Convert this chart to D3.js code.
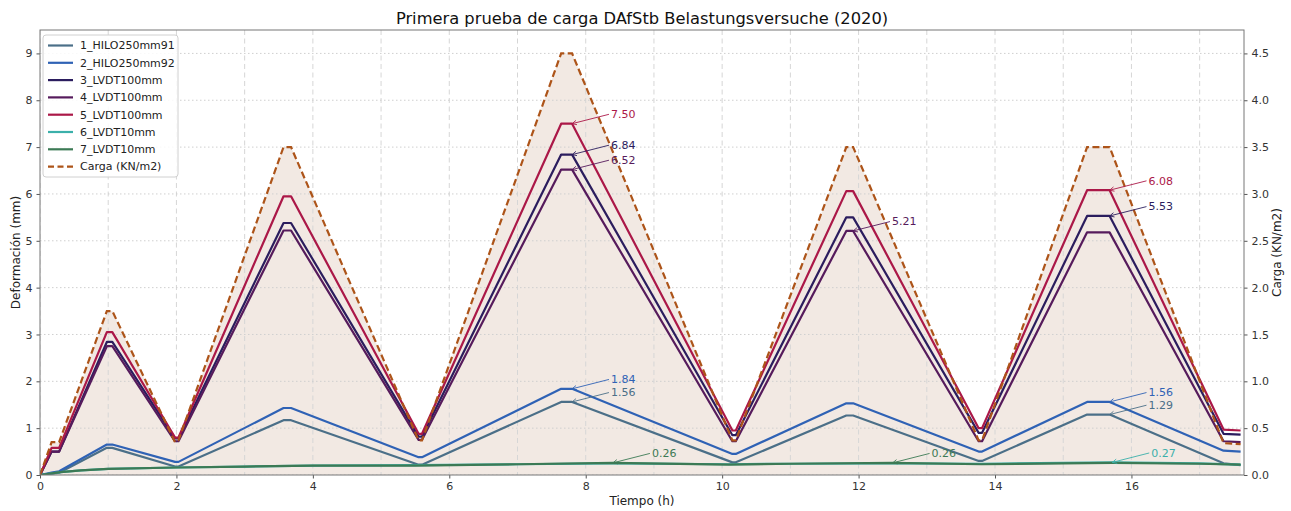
<!DOCTYPE html>
<html>
<head>
<meta charset="utf-8">
<script src="https://cdn.jsdelivr.net/npm/d3@7"></script>
<style>
  html, body { margin: 0; padding: 0; background: #fff; }
  svg { display: block; font-family: "DejaVu Sans", sans-serif; }
</style>
</head>
<body>
<svg id="chart" width="1291" height="511"></svg>
<script>
// Breakpoint times (h) shared by the load, LVDT100 and HILO series
const times = [0, 0.17, 0.28, 0.98, 1.06, 1.98, 2.03, 3.57, 3.68, 5.55, 5.6, 7.64, 7.8,
               10.15, 10.2, 11.82, 11.92, 13.76, 13.81, 15.35, 15.68, 17.35, 17.6];

// Applied load (KN/m2)
const carga = [0, 0.35, 0.35, 1.75, 1.75, 0.35, 0.37, 3.5, 3.5, 0.37, 0.37, 4.5, 4.5,
               0.37, 0.37, 3.5, 3.5, 0.37, 0.37, 3.5, 3.5, 0.34, 0.33];

// Deformation (mm)
const hilo91 = [0, 0.03, 0.05, 0.58, 0.58, 0.18, 0.18, 1.17, 1.17, 0.22, 0.22, 1.56, 1.56,
                0.27, 0.27, 1.27, 1.27, 0.3, 0.3, 1.29, 1.29, 0.25, 0.21];
const hilo92 = [0, 0.05, 0.08, 0.65, 0.65, 0.28, 0.28, 1.43, 1.43, 0.38, 0.38, 1.84, 1.84,
                0.45, 0.45, 1.53, 1.53, 0.5, 0.5, 1.56, 1.56, 0.52, 0.5];
const lvdt3 = [0, 0.5, 0.5, 2.84, 2.84, 0.78, 0.78, 5.38, 5.38, 0.82, 0.82, 6.84, 6.84,
               0.85, 0.85, 5.5, 5.5, 0.9, 0.9, 5.53, 5.53, 0.88, 0.86];
const lvdt4 = [0, 0.5, 0.5, 2.75, 2.75, 0.72, 0.72, 5.22, 5.22, 0.75, 0.75, 6.52, 6.52,
               0.72, 0.72, 5.21, 5.21, 0.72, 0.72, 5.18, 5.18, 0.72, 0.7];
const lvdt5 = [0, 0.58, 0.58, 3.05, 3.05, 0.8, 0.8, 5.95, 5.95, 0.88, 0.88, 7.5, 7.5,
               0.95, 0.95, 6.06, 6.06, 1.0, 1.0, 6.08, 6.08, 0.97, 0.95];

// Short-stroke LVDTs are sampled on their own breakpoints
const times10 = [0, 0.3, 0.6, 1.0, 2.0, 3.0, 4.0, 5.5, 7.0, 8.4, 10.1, 11.0, 12.5, 13.8, 15.0, 15.72, 17.0, 17.6];
const lvdt6 = [0, 0.06, 0.1, 0.13, 0.16, 0.18, 0.2, 0.21, 0.23, 0.25, 0.23, 0.24, 0.25, 0.24, 0.26, 0.27, 0.25, 0.22];
const lvdt7 = [0, 0.06, 0.1, 0.13, 0.16, 0.18, 0.2, 0.2, 0.23, 0.26, 0.22, 0.24, 0.26, 0.23, 0.25, 0.26, 0.24, 0.22];

const seriesNames = ["1_HILO250mm91", "2_HILO250mm92", "3_LVDT100mm", "4_LVDT100mm",
                     "5_LVDT100mm", "6_LVDT10mm", "7_LVDT10mm"];
const seriesColors = ["#4b6f88", "#2f62b5", "#2b1d5e", "#561b5c", "#ab1848", "#3bb0aa", "#3c7a55"];
const cargaLabel = "Carga (KN/m2)";
const cargaColor = "#ad5419";

const xTicks = [0, 2, 4, 6, 8, 10, 12, 14, 16];
const yTicks = [0, 1, 2, 3, 4, 5, 6, 7, 8, 9];
const y2Ticks = [0, 0.5, 1, 1.5, 2, 2.5, 3, 3.5, 4, 4.5];

// Annotated values: series index, time, value shown
const notes = [
  { s: 4, t: times[12], v: lvdt5[12] },
  { s: 2, t: times[12], v: lvdt3[12] },
  { s: 3, t: times[12], v: lvdt4[12] },
  { s: 1, t: times[12], v: hilo92[12] },
  { s: 0, t: times[12], v: hilo91[12] },
  { s: 6, t: times10[9], v: lvdt7[9] },
  { s: 3, t: times[16], v: lvdt4[16] },
  { s: 6, t: times10[12], v: lvdt7[12] },
  { s: 4, t: times[20], v: lvdt5[20] },
  { s: 2, t: times[20], v: lvdt3[20] },
  { s: 1, t: times[20], v: hilo92[20] },
  { s: 0, t: times[20], v: hilo91[20] },
  { s: 5, t: times10[15], v: lvdt6[15] }
];

const seriesData = [
  { x: times, y: hilo91 }, { x: times, y: hilo92 }, { x: times, y: lvdt3 },
  { x: times, y: lvdt4 }, { x: times, y: lvdt5 }, { x: times10, y: lvdt6 },
  { x: times10, y: lvdt7 }
];

const svg = d3.select("#chart");
const L = 40, R = 1244, T = 30, B = 475;

const x = d3.scaleLinear().domain([0, 17.65]).range([L, R]);
const y = d3.scaleLinear().domain([0, 9.5]).range([B, T]);
const y2 = d3.scaleLinear().domain([0, 4.75]).range([B, T]);

svg.append("defs").append("clipPath").attr("id", "plot")
  .append("rect").attr("x", L).attr("y", T).attr("width", R - L).attr("height", B - T);

const plot = svg.append("g").attr("clip-path", "url(#plot)");

// Area under the load curve
const cargaPts = times.map((t, i) => [t, carga[i]]);
plot.append("path")
  .attr("d", d3.area().x(d => x(d[0])).y0(y2(0)).y1(d => y2(d[1]))(cargaPts))
  .attr("fill", "#f2e9e3");

// Grid: dashed vertical lines every hour, dotted horizontal lines per mm
plot.append("g").selectAll("line").data(d3.range(0, 18)).join("line")
  .attr("x1", d => x(d)).attr("x2", d => x(d)).attr("y1", T).attr("y2", B)
  .attr("stroke", "#d6d6d6").attr("stroke-width", 1).attr("stroke-dasharray", "5,3.5");
plot.append("g").selectAll("line").data(yTicks).join("line")
  .attr("x1", L).attr("x2", R).attr("y1", d => y(d)).attr("y2", d => y(d))
  .attr("stroke", "#cfcfcf").attr("stroke-width", 1).attr("stroke-dasharray", "1.5,2.5");

// Deformation series
const line = d3.line().x(d => x(d[0])).y(d => y(d[1]));
seriesData.forEach((s, i) => {
  plot.append("path")
    .attr("d", line(s.x.map((t, k) => [t, s.y[k]])))
    .attr("fill", "none").attr("stroke", seriesColors[i])
    .attr("stroke-width", 2.2).attr("stroke-linejoin", "round");
});

// Load curve (right axis)
plot.append("path")
  .attr("d", d3.line().x(d => x(d[0])).y(d => y2(d[1]))(cargaPts))
  .attr("fill", "none").attr("stroke", cargaColor)
  .attr("stroke-width", 2.2).attr("stroke-dasharray", "7,3.5");

// Axes
const xAxis = svg.append("g").attr("transform", `translate(0,${B})`)
  .call(d3.axisBottom(x).tickValues(xTicks).tickFormat(d3.format("d")).tickSize(3.5).tickPadding(4));
const yAxis = svg.append("g").attr("transform", `translate(${L},0)`)
  .call(d3.axisLeft(y).tickValues(yTicks).tickFormat(d3.format("d")).tickSize(3.5).tickPadding(4));
const y2Axis = svg.append("g").attr("transform", `translate(${R},0)`)
  .call(d3.axisRight(y2).tickValues(y2Ticks).tickFormat(d3.format(".1f")).tickSize(3.5).tickPadding(4));
[xAxis, yAxis, y2Axis].forEach(a => {
  a.select(".domain").remove();
  a.selectAll("line").attr("stroke", "#555");
  a.selectAll("text").attr("fill", "#333").style("font-size", "11px")
    .style("font-family", "DejaVu Sans, sans-serif");
});

// Frame
svg.append("rect").attr("x", L).attr("y", T).attr("width", R - L).attr("height", B - T)
  .attr("fill", "none").attr("stroke", "#777").attr("stroke-width", 1);

// Annotations with open arrowheads
const annG = svg.append("g");
notes.forEach(n => {
  const c = seriesColors[n.s];
  const px = x(n.t), py = y(n.v);
  const tx = x(n.t + 0.57), ty = y(n.v + 0.2);
  annG.append("line").attr("x1", tx - 2).attr("y1", ty).attr("x2", px).attr("y2", py)
    .attr("stroke", c).attr("stroke-width", 0.9);
  const ang = Math.atan2(ty - py, tx - 2 - px);
  const hl = 5, ha = 0.45;
  [ang - ha, ang + ha].forEach(a => {
    annG.append("line").attr("x1", px).attr("y1", py)
      .attr("x2", px + hl * Math.cos(a)).attr("y2", py + hl * Math.sin(a))
      .attr("stroke", c).attr("stroke-width", 0.9);
  });
  annG.append("text").attr("x", tx).attr("y", ty).attr("dy", "0.35em")
    .attr("fill", c).style("font-size", "11px").text(n.v.toFixed(2));
});

// Legend
const leg = svg.append("g").attr("transform", "translate(43,35)");
leg.append("rect").attr("width", 135).attr("height", 142).attr("rx", 3)
  .attr("fill", "rgba(255,255,255,0.85)").attr("stroke", "#d0d0d0");
const legItems = seriesNames.map((n, i) => ({ name: n, color: seriesColors[i], dash: null }))
  .concat([{ name: cargaLabel, color: cargaColor, dash: "6,3.5" }]);
legItems.forEach((d, i) => {
  const yy = 10.5 + i * 17.3;
  leg.append("line").attr("x1", 5).attr("x2", 30).attr("y1", yy).attr("y2", yy)
    .attr("stroke", d.color).attr("stroke-width", 2.2)
    .attr("stroke-dasharray", d.dash);
  leg.append("text").attr("x", 37).attr("y", yy).attr("dy", "0.35em")
    .attr("fill", "#222").style("font-size", "11px").text(d.name);
});

// Titles
svg.append("text").attr("x", (L + R) / 2).attr("y", 24).attr("text-anchor", "middle")
  .attr("fill", "#111").style("font-size", "16.3px")
  .text("Primera prueba de carga DAfStb Belastungsversuche (2020)");
svg.append("text").attr("x", (L + R) / 2).attr("y", 505).attr("text-anchor", "middle")
  .attr("fill", "#222").style("font-size", "12px").text("Tiempo (h)");
svg.append("text").attr("transform", `translate(20,${(T + B) / 2}) rotate(-90)`)
  .attr("text-anchor", "middle").attr("fill", "#222").style("font-size", "12px")
  .text("Deformación (mm)");
svg.append("text").attr("transform", `translate(1281,${(T + B) / 2}) rotate(-90)`)
  .attr("text-anchor", "middle").attr("fill", "#222").style("font-size", "12px")
  .text(cargaLabel);
</script>
</body>
</html>
